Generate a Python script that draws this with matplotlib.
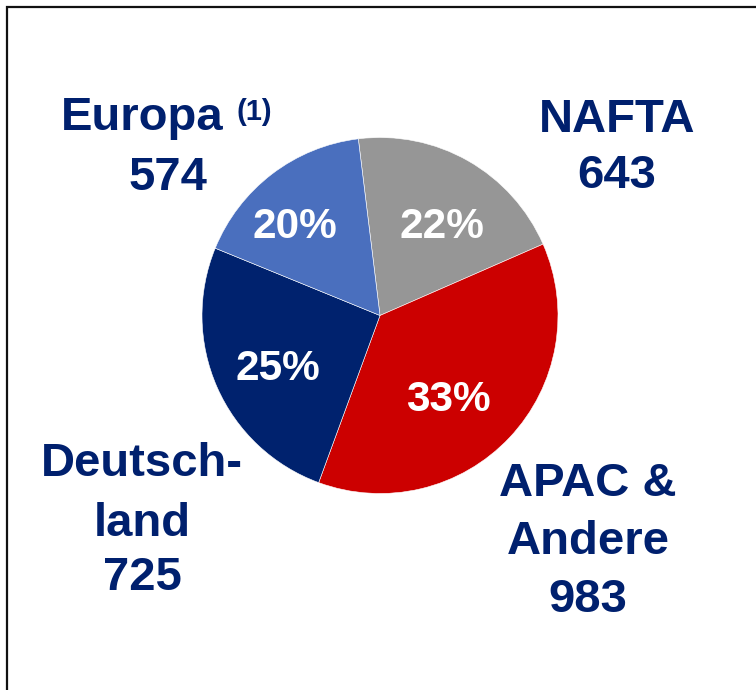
import matplotlib.pyplot as plt
from matplotlib.lines import Line2D

# regions, clockwise from the top
regions = ["NAFTA", "APAC & Andere", "Deutschland", "Europa"]
amounts = [643, 983, 725, 574]
pct_labels = ["22%", "33%", "25%", "20%"]
# share of the circle each wedge takes in the picture
wedge_share = [20.4, 37.2, 25.6, 16.9]
colors = ["#969696", "#CC0000", "#00226E", "#4A6FBE"]

navy = "#00206E"
W, H = 756, 690

plt.rcParams['font.family'] = ['Liberation Sans', 'DejaVu Sans']

fig = plt.figure(figsize=(W / 100, H / 100), dpi=100)
ax = fig.add_axes([0, 0, 1, 1])
ax.set_xlim(0, W)
ax.set_ylim(0, H)
ax.set_aspect('equal')
ax.axis('off')

def py(y):
    # pixel row from the top -> data y
    return H - y

ax.pie(wedge_share, colors=colors, startangle=97, counterclock=False,
       center=(380, py(315.5)), radius=178,
       wedgeprops=dict(edgecolor='white', linewidth=0.4))
ax.set_xlim(0, W)
ax.set_ylim(0, H)

# percentages inside the wedges
pct_pos = [(442, 238), (448, 411), (278, 380), (295, 238)]
for txt, (x, y) in zip(pct_labels, pct_pos):
    ax.text(x, py(y), txt, color='white', fontsize=30.5, fontweight='bold',
            ha='center', va='baseline')

# region names and amounts outside
label_lines = [
    ["NAFTA", str(amounts[0])],
    ["APAC &", "Andere", str(amounts[1])],
    ["Deutsch-", "land", str(amounts[2])],
    ["Europa", str(amounts[3])],
]
label_pos = [
    (617, [131.5, 188.5]),
    (588, [496.5, 554, 612.5]),
    (142, [476.5, 535.5, 590]),
    (168, [129.5, 190]),
]
for lines, (x, ys) in zip(label_lines, label_pos):
    for line, y in zip(lines, ys):
        xx = x
        if line == "Europa":
            xx = 142
        ax.text(xx, py(y), line, color=navy, fontsize=34, fontweight='bold',
                ha='center', va='baseline')
ax.text(237, py(120), "(1)", color=navy, fontsize=21, fontweight='bold',
        ha='left', va='baseline')

# frame (only left and top edges are inside the picture)
ax.add_line(Line2D([7, 7, W], [0, py(7), py(7)], color='#111111',
                   linewidth=1.6, solid_joinstyle='miter'))

fig.savefig("out.png", dpi=100)
